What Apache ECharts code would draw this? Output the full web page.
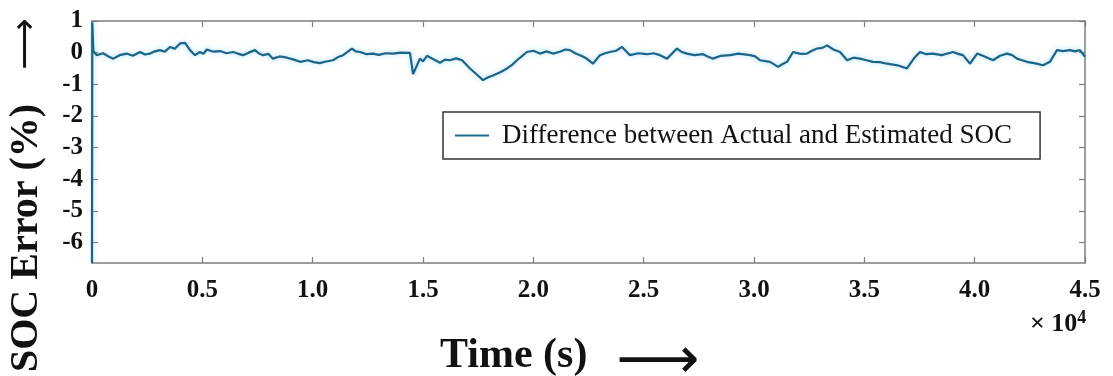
<!DOCTYPE html>
<html>
<head>
<meta charset="utf-8">
<title>SOC Error</title>
<script src="https://cdn.jsdelivr.net/npm/echarts@6/dist/echarts.min.js"></script>
<style>
  html, body { margin: 0; padding: 0; background: #ffffff; }
  #chart { width: 1113px; height: 376px; }
</style>
</head>
<body>
<div id="chart"></div>
<script>
// Time stamps (s) of the estimator run, ten samples per line
const timeSec = [
  0, 15, 60, 210, 500, 750, 965, 1250, 1570, 1850,
  2175, 2400, 2630, 2850, 3080, 3300, 3535, 3750, 3990, 4215,
  4440, 4670, 4890, 5050, 5200, 5500, 5800, 6100, 6390, 6600,
  6840, 7100, 7390, 7550, 7750, 8000, 8200, 8500, 8840, 9150,
  9430, 9790, 10050, 10330, 10600, 10920, 11150, 11380, 11780, 11950,
  12150, 12450, 12730, 13000, 13300, 13640, 14000, 14410, 14550, 14860,
  15000, 15180, 15450, 15770, 16000, 16220, 16500, 16770, 17130, 17450,
  17720, 17950, 18170, 18500, 18810, 19050, 19260, 19500, 19710, 20000,
  20300, 20600, 20890, 21200, 21450, 21660, 21900, 22120, 22400, 22700,
  23020, 23250, 23470, 23750, 24020, 24380, 24750, 25150, 25450, 25740,
  26060, 26510, 26700, 26960, 27300, 27690, 27900, 28140, 28500, 28910,
  29300, 29820, 30050, 30270, 30730, 31090, 31300, 31500, 31770, 32100,
  32400, 32600, 32860, 33100, 33310, 33600, 33900, 34220, 34500, 34800,
  35100, 35390, 35700, 36030, 36500, 36930, 37250, 37520, 37800, 38110,
  38500, 39020, 39250, 39470, 39790, 40110, 40450, 40830, 41150, 41470,
  41700, 41920, 42150, 42370, 42750, 43100, 43410, 43730, 44000, 44320,
  44550, 44770, 45000
];
// SOC error (%) at each time stamp
const socError = [
  -6.65, 0.95, 0.05, -0.08, -0.02, -0.12, -0.19, -0.08, -0.03, -0.10,
  0.02, -0.06, -0.03, 0.04, 0.08, 0.03, 0.18, 0.12, 0.29, 0.31,
  0.08, -0.08, 0.02, -0.04, 0.10, 0.03, 0.05, -0.02, 0.02, -0.03,
  -0.08, 0.00, 0.08, -0.02, -0.08, -0.04, -0.19, -0.12, -0.16, -0.22,
  -0.29, -0.24, -0.30, -0.33, -0.28, -0.24, -0.14, -0.08, 0.13, 0.04,
  0.02, -0.05, -0.03, -0.07, -0.02, -0.03, 0.00, -0.01, -0.68, -0.19,
  -0.28, -0.10, -0.20, -0.32, -0.22, -0.24, -0.18, -0.24, -0.50, -0.70,
  -0.87, -0.78, -0.72, -0.62, -0.50, -0.38, -0.24, -0.10, 0.02, 0.06,
  -0.03, 0.04, -0.03, 0.03, 0.10, 0.08, -0.02, -0.08, -0.18, -0.35,
  -0.08, -0.02, 0.02, 0.06, 0.18, -0.08, -0.02, -0.05, -0.02, -0.08,
  -0.19, 0.13, 0.03, -0.03, -0.08, -0.05, -0.12, -0.19, -0.10, -0.08,
  -0.03, -0.08, -0.12, -0.24, -0.29, -0.45, -0.36, -0.29, 0.02, -0.04,
  -0.03, 0.05, 0.13, 0.15, 0.23, 0.10, 0.02, -0.24, -0.16, -0.19,
  -0.24, -0.29, -0.30, -0.35, -0.40, -0.50, -0.18, 0.02, -0.05, -0.03,
  -0.08, 0.02, -0.04, -0.08, -0.35, -0.03, -0.12, -0.24, -0.10, -0.03,
  -0.08, -0.19, -0.24, -0.29, -0.34, -0.40, -0.29, 0.08, 0.05, 0.08,
  0.04, 0.08, -0.13
];
const yTicks = [1, 0, -1, -2, -3, -4, -5, -6];
const seriesName = 'Difference between Actual and Estimated SOC';

const serif = '"Liberation Serif", "Times New Roman", serif';
const frameColor = '#7d7d7d';

const points = timeSec.map((t, i) => [t, socError[i]]);

const xBase = {
  type: 'value', min: 0, max: 45000, interval: 5000,
  axisLine: { show: true, onZero: false, lineStyle: { color: frameColor, width: 1.5 } },
  axisTick: { show: true, inside: true, length: 6, lineStyle: { color: frameColor, width: 1.2 } },
  splitLine: { show: false }
};
const yBase = {
  type: 'value', min: -6.65, max: 1,
  axisLine: { show: true, onZero: false, lineStyle: { color: frameColor, width: 1.5 } },
  axisTick: { show: true, inside: true, length: 6, customValues: yTicks, lineStyle: { color: frameColor, width: 1.2 } },
  splitLine: { show: false }
};

const chart = echarts.init(document.getElementById('chart'), null, { renderer: 'canvas' });
chart.setOption({
  backgroundColor: '#ffffff',
  animation: false,
  grid: { left: 92, right: 28, top: 21, bottom: 113, containLabel: false },
  xAxis: [
    Object.assign({}, xBase, {
      position: 'bottom',
      axisLabel: {
        show: true, margin: 15, color: '#111',
        fontFamily: serif, fontWeight: 'bold', fontSize: 25,
        formatter: v => v === 0 ? '0' : (v / 10000).toFixed(1)
      }
    }),
    Object.assign({}, xBase, { position: 'top', axisLabel: { show: false } })
  ],
  yAxis: [
    Object.assign({}, yBase, {
      position: 'left',
      axisLabel: {
        show: true, margin: 9, color: '#111', customValues: yTicks,
        fontFamily: serif, fontWeight: 'bold', fontSize: 25,
        formatter: v => String(v)
      }
    }),
    Object.assign({}, yBase, { position: 'right', axisLabel: { show: false } })
  ],
  legend: {
    show: true,
    left: 443, top: 112,
    orient: 'horizontal',
    backgroundColor: '#ffffff',
    borderColor: '#333333', borderWidth: 1.5, borderRadius: 0,
    padding: [10, 28, 10, 12],
    itemWidth: 34, itemHeight: 2, itemGap: 10,
    data: [{ name: seriesName, icon: 'rect' }],
    textStyle: { fontFamily: serif, fontSize: 27, color: '#111', padding: [0, 0, 0, 8] }
  },
  series: [{
    name: seriesName,
    type: 'line',
    xAxisIndex: 0, yAxisIndex: 0,
    data: points,
    showSymbol: false,
    symbol: 'none',
    clip: true,
    color: '#1e6a92',
    lineStyle: {
      color: '#1c6488', width: 2.2,
      shadowColor: 'rgba(110, 200, 235, 0.65)', shadowBlur: 5
    }
  }],
  graphic: [
    {
      type: 'text', left: 1030, top: 309,
      style: {
        text: '× 10{s|4}', fill: '#111',
        font: 'bold 26px ' + serif,
        rich: { s: { fontSize: 18, fontWeight: 'bold', fontFamily: serif, verticalAlign: 'top', padding: [0, 0, 13, 0] } }
      }
    },
    // y-axis title, rotated, with its arrow pointing up
    {
      type: 'text', x: 27, y: 372, rotation: Math.PI / 2,
      style: {
        text: 'SOC Error (%)', fill: '#111',
        font: 'bold 40px ' + serif,
        align: 'left', verticalAlign: 'middle'
      }
    },
    {
      type: 'text', x: 27, y: 44, rotation: Math.PI / 2,
      style: {
        text: '\u27F6', fill: '#111',
        font: '36px "DejaVu Sans", sans-serif',
        align: 'center', verticalAlign: 'middle'
      }
    },
    // x-axis title with its arrow pointing right
    {
      type: 'text', x: 440, y: 356,
      style: {
        text: 'Time (s)', fill: '#111',
        font: 'bold 42px ' + serif,
        align: 'left', verticalAlign: 'middle'
      }
    },
    {
      type: 'text', x: 658, y: 363,
      style: {
        text: '\u27F6', fill: '#111',
        font: '58px "DejaVu Sans", sans-serif',
        align: 'center', verticalAlign: 'middle'
      }
    }
  ]
});
</script>
</body>
</html>
